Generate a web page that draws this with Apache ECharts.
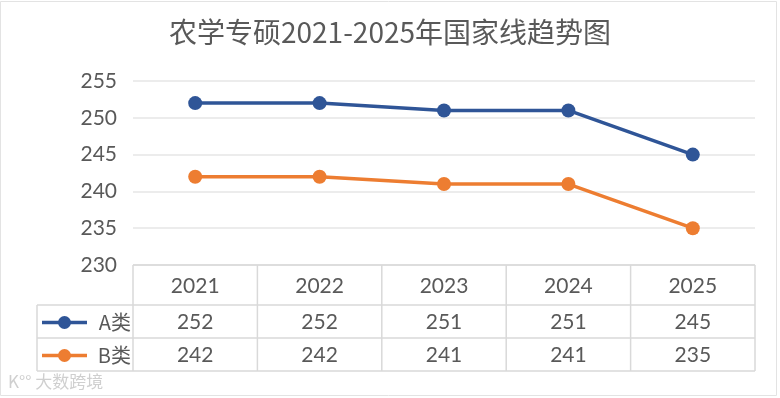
<!DOCTYPE html>
<html>
<head>
<meta charset="utf-8">
<script src="https://cdn.jsdelivr.net/npm/echarts@6/dist/echarts.min.js"></script>
<style>
  html, body { margin: 0; padding: 0; background: #fff; }
  #main { width: 780px; height: 398px; }
</style>
</head>
<body>
<div id="main"></div>
<script>
// 数据
var years = ['2021', '2022', '2023', '2024', '2025'];
var seriesNames = ['A类', 'B类'];
var valuesA = [252, 252, 251, 251, 245];
var valuesB = [242, 242, 241, 241, 235];
var yMin = 230, yMax = 255, yStep = 5;

var colors = ['#2F5597', '#ED7D31'];
var textColor = '#595959';
var numFont = 'Lato, "Noto Sans CJK SC", sans-serif';
var cjkFont = '"Noto Sans CJK SC", sans-serif';

var gridLeft = 133, gridRight = 25, gridTop = 81, gridBottom = 133;

var chart = echarts.init(document.getElementById('main'));
chart.setOption({
  animation: false,
  backgroundColor: '#fff',
  title: {
    text: '农学专硕2021-2025年国家线趋势图',
    left: 'center',
    top: 13,
    textStyle: { fontFamily: cjkFont, fontSize: 28, fontWeight: 'normal', color: textColor }
  },
  grid: { left: gridLeft, right: gridRight, top: gridTop, bottom: gridBottom },
  xAxis: {
    type: 'category',
    data: years,
    boundaryGap: true,
    axisLine: { show: false },
    axisTick: { show: false },
    axisLabel: { show: false }
  },
  yAxis: {
    type: 'value',
    min: yMin,
    max: yMax,
    interval: yStep,
    axisLine: { show: false },
    axisTick: { show: false },
    axisLabel: { color: textColor, fontSize: 21, fontFamily: numFont, margin: 16 },
    splitLine: { lineStyle: { color: '#E6E6E6', width: 1.5 } }
  },
  series: [
    {
      name: seriesNames[0], type: 'line', data: valuesA,
      symbol: 'circle', symbolSize: 14,
      lineStyle: { color: colors[0], width: 3.5 },
      itemStyle: { color: colors[0] }
    },
    {
      name: seriesNames[1], type: 'line', data: valuesB,
      symbol: 'circle', symbolSize: 14,
      lineStyle: { color: colors[1], width: 3.5 },
      itemStyle: { color: colors[1] }
    }
  ]
});

// 数据表
var rows = [valuesA, valuesB];
var centers = years.map(function (y) { return chart.convertToPixel({ xAxisIndex: 0 }, y); });
var step = centers[1] - centers[0];
var tLeft = gridLeft, tRight = 780 - gridRight, tTop = 398 - gridBottom;
var rowLines = [tTop, tTop + 40, tTop + 73, tTop + 106];
var legendLeft = 37;
var bc = '#D9D9D9';
var els = [];

function line(x1, y1, x2, y2) {
  els.push({ type: 'line', shape: { x1: x1, y1: y1, x2: x2, y2: y2 }, style: { stroke: bc, lineWidth: 1.5 } });
}
function text(x, y, s, font, align, size) {
  els.push({ type: 'text', x: x, y: y, style: { text: s, fill: textColor, font: (size || 21) + 'px ' + font, align: align || 'center', verticalAlign: 'middle' } });
}

line(tLeft, rowLines[0], tRight, rowLines[0]);
for (var r = 1; r < rowLines.length; r++) line(legendLeft, rowLines[r], tRight, rowLines[r]);
line(legendLeft, rowLines[1], legendLeft, rowLines[3]);
for (var i = 0; i <= years.length; i++) {
  var x = tLeft + i * step;
  line(x, rowLines[0], x, rowLines[3]);
}
years.forEach(function (y, i) {
  text(centers[i], (rowLines[0] + rowLines[1]) / 2 + 1, y, numFont);
});
rows.forEach(function (vals, r) {
  var cy = (rowLines[r + 1] + rowLines[r + 2]) / 2 + 1;
  els.push({ type: 'line', shape: { x1: 42, y1: cy, x2: 87, y2: cy }, style: { stroke: colors[r], lineWidth: 3.5 } });
  els.push({ type: 'circle', shape: { cx: 64.5, cy: cy, r: 6.5 }, style: { fill: colors[r] } });
  text(131, cy, seriesNames[r], cjkFont, 'right', 20);
  vals.forEach(function (v, i) { text(centers[i], cy, String(v), numFont); });
});

// 水印与外框
els.push({ type: 'text', x: 8, y: 382, style: { text: 'K°° 大数跨境', fill: '#CFCFCF', font: '17px ' + cjkFont, verticalAlign: 'middle' } });
els.push({ type: 'rect', shape: { x: 0.5, y: 1.5, width: 776, height: 394 }, style: { fill: 'none', stroke: '#E3E3E3', lineWidth: 1 } });

chart.setOption({ graphic: { elements: els } });
</script>
</body>
</html>
